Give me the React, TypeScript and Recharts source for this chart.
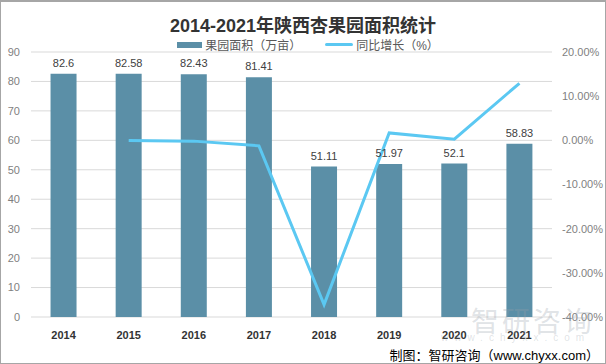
import React from "react"
import { ComposedChart, Bar, Line, XAxis, YAxis, CartesianGrid, LabelList } from "recharts"

const years = ["2014", "2015", "2016", "2017", "2018", "2019", "2020", "2021"]
const area = [82.6, 82.58, 82.43, 81.41, 51.11, 51.97, 52.1, 58.83]
const growth = [null, -0.0002, -0.0018, -0.0124, -0.372, 0.0168, 0.0025, 0.1292]
const leftTicks = [0, 10, 20, 30, 40, 50, 60, 70, 80, 90]
const rightTicks = [-0.4, -0.3, -0.2, -0.1, 0, 0.1, 0.2]

const BAR_COLOR = "#5b8fa7"
const LINE_COLOR = "#5bc8f2"
const FONT = "'Liberation Sans', 'Noto Sans CJK SC', sans-serif"

const data = years.map((year, i) => ({ year, area: area[i], growth: growth[i] }))

function ChartLegend() {
  const item = { display: "flex", alignItems: "center", gap: 3 }
  return (
    <div
      style={{
        position: "absolute",
        top: 34,
        left: 0,
        width: 604,
        display: "flex",
        justifyContent: "center",
        gap: 24,
        fontSize: 12,
        color: "#595959",
        paddingLeft: 10,
        boxSizing: "border-box",
      }}
    >
      <div style={item}>
        <span style={{ display: "inline-block", width: 25, height: 6, background: BAR_COLOR }} />
        <span>果园面积（万亩）</span>
      </div>
      <div style={item}>
        <span style={{ display: "inline-block", width: 28, height: 3, background: LINE_COLOR, borderRadius: 2 }} />
        <span>同比增长（%）</span>
      </div>
    </div>
  )
}

export default function App() {
  return (
    <div
      style={{
        position: "absolute",
        left: 0,
        top: 0,
        width: 606,
        height: 364,
        boxSizing: "border-box",
        border: "1px solid #a6a6a6",
        borderTopWidth: 2,
        background: "#fff",
        fontFamily: FONT,
      }}
    >
      <div
        style={{
          position: "absolute",
          top: 9,
          left: 0,
          width: 604,
          textAlign: "center",
          fontSize: 18,
          fontWeight: "bold",
          color: "#333",
        }}
      >
        2014-2021年陕西杏果园面积统计
      </div>
      <ChartLegend />
      <div style={{ position: "absolute", left: -1, top: -2 }}>
        <ComposedChart width={606} height={364} data={data} margin={{ top: 52, right: 0, bottom: 22, left: 0 }} barCategoryGap="30%">
          <CartesianGrid stroke="#d9d9d9" vertical={false} yAxisId="left" />
          <XAxis
            dataKey="year"
            axisLine={false}
            tickLine={false}
            height={25}
            tick={{ fontSize: 11, fontWeight: "bold", fill: "#333" }}
            tickMargin={8}
          />
          <YAxis
            yAxisId="left"
            domain={[0, 90]}
            ticks={leftTicks}
            width={31}
            axisLine={false}
            tickLine={false}
            tickMargin={5}
            tick={{ fontSize: 11, fill: "#7f7f7f" }}
          />
          <YAxis
            yAxisId="right"
            orientation="right"
            domain={[-0.4, 0.2]}
            ticks={rightTicks}
            width={54}
            axisLine={false}
            tickLine={false}
            tickMargin={4}
            tick={{ fontSize: 11, fill: "#7f7f7f" }}
            tickFormatter={(v: number) => `${(v * 100).toFixed(2)}%`}
          />
          <Bar yAxisId="left" dataKey="area" fill={BAR_COLOR} isAnimationActive={false}>
            <LabelList dataKey="area" position="top" offset={7} style={{ fontSize: 11, fill: "#404040" }} />
          </Bar>
          <Line
            yAxisId="right"
            dataKey="growth"
            stroke={LINE_COLOR}
            strokeWidth={3}
            dot={false}
            activeDot={false}
            isAnimationActive={false}
          />
        </ComposedChart>
      </div>
      <div
        style={{
          position: "absolute",
          left: 470,
          top: 298,
          fontSize: 28,
          color: "rgba(150,160,170,0.3)",
          letterSpacing: 3,
          pointerEvents: "none",
        }}
      >
        智研咨询
      </div>
      <div
        style={{
          position: "absolute",
          left: 440,
          top: 330,
          fontSize: 10,
          color: "rgba(150,160,170,0.3)",
          letterSpacing: 6,
        }}
      >
        www.chyxx.com
      </div>
      <div
        style={{
          position: "absolute",
          right: 6,
          top: 343,
          fontSize: 13,
          color: "#000",
        }}
      >
        制图：智研咨询（www.chyxx.com）
      </div>
    </div>
  )
}
